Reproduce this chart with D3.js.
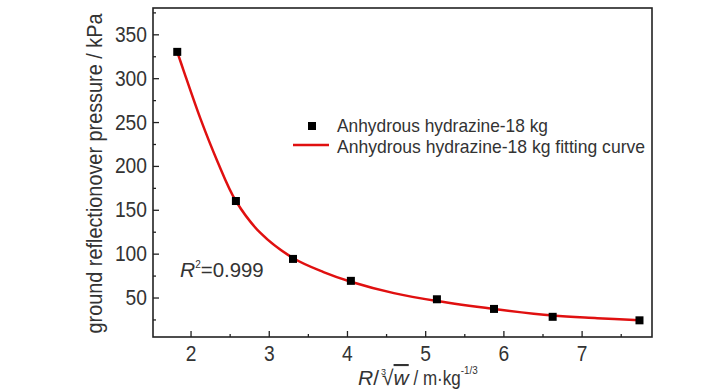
<!DOCTYPE html>
<html>
<head>
<meta charset="utf-8">
<script src="https://cdn.jsdelivr.net/npm/d3@7"></script>
<style>
  body { margin: 0; background: #fff; }
  text { font-family: "Liberation Sans Narrow", "Arial Narrow", "Liberation Sans", sans-serif; fill: #333; }
</style>
</head>
<body>
<div id="chart"></div>
<script>

// measured points (scaled distance vs. pressure)
var pointX = [1.83, 2.58, 3.31, 4.05, 5.15, 5.88, 6.63, 7.74];
var pointY = [330, 160, 94, 69, 48, 37, 28, 24];

// fitting curve
var curveX = [1.83, 1.91, 2.13, 2.34, 2.58, 2.9, 3.31, 3.7, 4.05, 4.6, 5.15, 5.88, 6.63, 7.2, 7.74];
var curveY = [330, 309, 253, 206, 160, 123, 95, 79, 68, 55, 46, 37, 29.5, 26.5, 24];

var xTicks = [2, 3, 4, 5, 6, 7];
var xMinor = [2.5, 3.5, 4.5, 5.5, 6.5, 7.5];
var yTicks = [50, 100, 150, 200, 250, 300, 350];
var yMinor = [25, 75, 125, 175, 225, 275, 325, 375];

var legendLabels = ["Anhydrous hydrazine-18 kg", "Anhydrous hydrazine-18 kg fitting curve"];

//--------------------------------------------------------------------------
// geometry

var width = 728, height = 390;
var margin = { left: 153, right: 76, top: 8, bottom: 53 };
var innerW = width - margin.left - margin.right;
var innerH = height - margin.top - margin.bottom;

var svg = d3.select("#chart").append("svg")
    .attr("width", width)
    .attr("height", height);

var g = svg.append("g")
    .attr("transform", "translate(" + margin.left + "," + margin.top + ")");

var x = d3.scaleLinear().domain([1.52, 7.9]).range([0, innerW]);
var y = d3.scaleLinear().domain([5, 380]).range([innerH, 0]);

// narrow look: squeeze the fallback font to the width of the original
function squeeze(sel, len) {
  sel.attr("textLength", len).attr("lengthAdjust", "spacingAndGlyphs");
}

//--------------------------------------------------------------------------
// axes

g.append("g")
    .attr("transform", "translate(0," + innerH + ")")
    .call(d3.axisBottom(x).tickValues(xTicks).tickSize(-6).tickPadding(8).tickFormat(d3.format("d")));

g.append("g")
    .attr("transform", "translate(0," + innerH + ")")
    .call(d3.axisBottom(x).tickValues(xMinor).tickSize(-3).tickFormat(""));

g.append("g")
    .call(d3.axisLeft(y).tickValues(yTicks).tickSize(-6).tickPadding(6).tickFormat(d3.format("d")));

g.append("g")
    .call(d3.axisLeft(y).tickValues(yMinor).tickSize(-3).tickFormat(""));

g.selectAll(".domain").remove();
g.selectAll(".tick line").attr("stroke", "#222").attr("stroke-width", 1.3);
g.selectAll(".tick text")
    .style("font-size", "22px")
    .attr("fill", "#333")
    .each(function() {
      var t = d3.select(this);
      if (t.text() !== "") squeeze(t, t.text().length * 10.7);
    });

// frame
g.append("rect")
    .attr("width", innerW)
    .attr("height", innerH)
    .attr("fill", "none")
    .attr("stroke", "#222")
    .attr("stroke-width", 1.6);

//--------------------------------------------------------------------------
// curve and points

var curveData = curveX.map(function(d, i) { return [d, curveY[i]]; });

g.append("path")
    .datum(curveData)
    .attr("fill", "none")
    .attr("stroke", "#e01010")
    .attr("stroke-width", 2.5)
    .attr("d", d3.line()
      .x(function(d) { return x(d[0]); })
      .y(function(d) { return y(d[1]); })
      .curve(d3.curveCatmullRom.alpha(0.5)));

var sq = 8;
g.selectAll(".pt")
    .data(pointX)
    .enter().append("rect")
    .attr("class", "pt")
    .attr("x", function(d) { return x(d) - sq / 2; })
    .attr("y", function(d, i) { return y(pointY[i]) - sq / 2; })
    .attr("width", sq)
    .attr("height", sq)
    .attr("fill", "#000");

//--------------------------------------------------------------------------
// legend

var legend = svg.append("g");
legend.append("rect")
    .attr("x", 308).attr("y", 122).attr("width", 8).attr("height", 8)
    .attr("fill", "#000");
legend.append("text")
    .attr("x", 337).attr("y", 132)
    .style("font-size", "18.5px")
    .text(legendLabels[0])
    .call(squeeze, 211);
legend.append("line")
    .attr("x1", 293).attr("x2", 329).attr("y1", 145).attr("y2", 145)
    .attr("stroke", "#e01010").attr("stroke-width", 2.5);
legend.append("text")
    .attr("x", 337).attr("y", 153)
    .style("font-size", "18.5px")
    .text(legendLabels[1])
    .call(squeeze, 308);

//--------------------------------------------------------------------------
// annotations and axis titles

var r2 = svg.append("text")
    .attr("x", 180).attr("y", 277)
    .style("font-size", "21px");
r2.append("tspan").style("font-style", "italic").text("R");
r2.append("tspan").attr("dy", -9).style("font-size", "10px").text("2");
r2.append("tspan").attr("dy", 9).text("=0.999").call(squeeze, 63);

svg.append("text")
    .attr("transform", "translate(102," + (margin.top + innerH / 2 + 1) + ") rotate(-90)")
    .attr("text-anchor", "middle")
    .style("font-size", "22px")
    .text("ground reflectionover pressure / kPa")
    .call(squeeze, 320);

var xt = svg.append("text")
    .attr("x", 358).attr("y", 385)
    .style("font-size", "21px");
xt.append("tspan").style("font-style", "italic").text("R");
xt.append("tspan").text("/");
xt.append("tspan").attr("dx", 2).attr("dy", -10).style("font-size", "9px").text("3");
xt.append("tspan").attr("dx", -4).attr("dy", 10).text("\u221A");
xt.append("tspan").style("font-style", "italic").style("text-decoration", "overline").text("w");
xt.append("tspan").text(" / m\u00B7kg").call(squeeze, 52);
xt.append("tspan").attr("dy", -11).style("font-size", "11px").text("-1/3").call(squeeze, 17);

</script>
</body>
</html>
